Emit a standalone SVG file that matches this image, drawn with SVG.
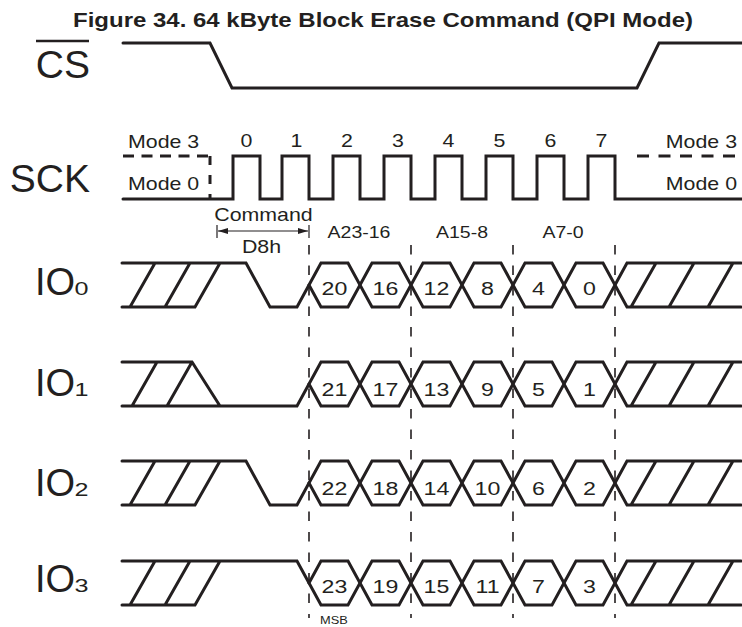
<svg xmlns="http://www.w3.org/2000/svg" xmlns:xlink="http://www.w3.org/1999/xlink" width="742" height="627" viewBox="0 0 742 627">
<style>
.w{fill:none;stroke:#231f20;stroke-width:3;stroke-linejoin:miter;stroke-linecap:round}
.dm{fill:none;stroke:#231f20;stroke-width:3}
.dl{fill:none;stroke:#231f20;stroke-width:1.6;stroke-dasharray:9.5 11}
.ar{fill:none;stroke:#231f20;stroke-width:1.2}
text{font-family:"Liberation Sans",Arial,Helvetica,sans-serif;fill:#231f20}
.big{font-size:39px}
.io{font-size:38px}
.sub{font-size:18px}
.s{font-size:17.5px}
.a{font-size:16px}
.h{font-size:19px}
.m{font-size:10.5px}
.t{font-size:21px;font-weight:bold}
</style>
<defs>
<polygon id="hex" points="0,0 12,-22 39,-22 51,0 39,22 12,22" fill="none" stroke="#231f20" stroke-width="3" stroke-linejoin="miter"/>
<path id="rightTail" class="w" d="M615,0 L627,-22 H741 M615,0 L627,22 H741 M631,22 L656,-22 M669,22 L694,-22 M708,22 L733,-22"/>
<g id="bus">
<use xlink:href="#hex" x="309" y="0"/>
<use xlink:href="#hex" x="360" y="0"/>
<use xlink:href="#hex" x="411" y="0"/>
<use xlink:href="#hex" x="462" y="0"/>
<use xlink:href="#hex" x="513" y="0"/>
<use xlink:href="#hex" x="564" y="0"/>
<use xlink:href="#rightTail"/>
</g>
<marker id="arr" markerUnits="userSpaceOnUse" markerWidth="12" markerHeight="8" refX="10" refY="4" orient="auto-start-reverse">
<path d="M0,1 L10,4 L0,7 Z" fill="#231f20"/>
</marker>
</defs>

<text class="t" x="73" y="27" textLength="620" lengthAdjust="spacingAndGlyphs">Figure 34. 64 kByte Block Erase Command (QPI Mode)</text>

<g id="cs">
<text class="big" x="90" y="78" text-anchor="end">CS</text>
<line x1="36" y1="41" x2="89" y2="41" stroke="#231f20" stroke-width="2.5"/>
<path class="w" d="M123,43 H210 L232,88 H637 L659,43 H742"/>
</g>

<g id="sck">
<text class="big" x="90" y="192" text-anchor="end">SCK</text>
<path class="dm" d="M123,156 H210" stroke-dasharray="11 7.5"/>
<path class="dm" d="M210,156 V199" stroke-dasharray="9 10"/>
<path class="dm" d="M637,156 H742" stroke-dasharray="12 9.5"/>
<path class="w" stroke-linecap="butt" d="M123,199 H233 V156 H260 V199 H282 V156 H309 V199 H333 V156 H360 V199 H384 V156 H411 V199 H435 V156 H462 V199 H486 V156 H513 V199 H537 V156 H564 V199 H588 V156 H615 V199 H742"/>
<text class="s" transform="matrix(1.22 0 0 1 128 148)">Mode 3</text>
<text class="s" transform="matrix(1.22 0 0 1 128 190)">Mode 0</text>
<text class="s" transform="matrix(1.22 0 0 1 737 148)" text-anchor="end">Mode 3</text>
<text class="s" transform="matrix(1.22 0 0 1 737 190)" text-anchor="end">Mode 0</text>
<text class="s" transform="matrix(1.22 0 0 1 246.5 147)" text-anchor="middle">0</text>
<text class="s" transform="matrix(1.22 0 0 1 296.5 147)" text-anchor="middle">1</text>
<text class="s" transform="matrix(1.22 0 0 1 347 147)" text-anchor="middle">2</text>
<text class="s" transform="matrix(1.22 0 0 1 398 147)" text-anchor="middle">3</text>
<text class="s" transform="matrix(1.22 0 0 1 448.5 147)" text-anchor="middle">4</text>
<text class="s" transform="matrix(1.22 0 0 1 499.5 147)" text-anchor="middle">5</text>
<text class="s" transform="matrix(1.22 0 0 1 550.5 147)" text-anchor="middle">6</text>
<text class="s" transform="matrix(1.22 0 0 1 601.5 147)" text-anchor="middle">7</text>
</g>

<g id="labels">
<text class="s" transform="matrix(1.22 0 0 1 263.5 221)" text-anchor="middle">Command</text>
<text class="s" transform="matrix(1.22 0 0 1 261.5 253)" text-anchor="middle">D8h</text>
<text class="a" transform="matrix(1.22 0 0 1 359 238)" text-anchor="middle">A23-16</text>
<text class="a" transform="matrix(1.22 0 0 1 462 238)" text-anchor="middle">A15-8</text>
<text class="a" transform="matrix(1.22 0 0 1 563 238)" text-anchor="middle">A7-0</text>
<text class="m" transform="matrix(1.22 0 0 1 334 624)" text-anchor="middle">MSB</text>
</g>

<g id="io0" transform="translate(0,285)">
<text class="io" x="35" y="10">IO</text>
<text class="sub" transform="matrix(1.4 0 0 1 81.5 10)" text-anchor="middle">0</text>
<path class="w" d="M122,-22 H246 L270,22 H297 L309,0 M122,22 H195 L220,-22 M130,22 L155,-22 M165,22 L190,-22"/>
<use xlink:href="#bus"/>
<g class="h" text-anchor="middle">
<text transform="matrix(1.22 0 0 1 334.5 10)">20</text>
<text transform="matrix(1.22 0 0 1 385.5 10)">16</text>
<text transform="matrix(1.22 0 0 1 436.5 10)">12</text>
<text transform="matrix(1.22 0 0 1 487.5 10)">8</text>
<text transform="matrix(1.22 0 0 1 538.5 10)">4</text>
<text transform="matrix(1.22 0 0 1 589.5 10)">0</text>
</g>
</g>

<g id="io1" transform="translate(0,384)">
<text class="io" x="35" y="12">IO</text>
<text class="sub" transform="matrix(1.4 0 0 1 81.5 12)" text-anchor="middle">1</text>
<path class="w" d="M122,-22 H192 L220,22 M122,22 H297 L309,0 M132,22 L157,-22 M167,22 L192,-22"/>
<use xlink:href="#bus"/>
<g class="h" text-anchor="middle">
<text transform="matrix(1.22 0 0 1 334.5 11.5)">21</text>
<text transform="matrix(1.22 0 0 1 385.5 11.5)">17</text>
<text transform="matrix(1.22 0 0 1 436.5 11.5)">13</text>
<text transform="matrix(1.22 0 0 1 487.5 11.5)">9</text>
<text transform="matrix(1.22 0 0 1 538.5 11.5)">5</text>
<text transform="matrix(1.22 0 0 1 589.5 11.5)">1</text>
</g>
</g>

<g id="io2" transform="translate(0,483)">
<text class="io" x="35" y="13">IO</text>
<text class="sub" transform="matrix(1.4 0 0 1 81.5 13)" text-anchor="middle">2</text>
<path class="w" d="M122,-22 H246 L270,22 H297 L309,0 M122,22 H195 L220,-22 M130,22 L155,-22 M165,22 L190,-22"/>
<use xlink:href="#bus"/>
<g class="h" text-anchor="middle">
<text transform="matrix(1.22 0 0 1 334.5 12)">22</text>
<text transform="matrix(1.22 0 0 1 385.5 12)">18</text>
<text transform="matrix(1.22 0 0 1 436.5 12)">14</text>
<text transform="matrix(1.22 0 0 1 487.5 12)">10</text>
<text transform="matrix(1.22 0 0 1 538.5 12)">6</text>
<text transform="matrix(1.22 0 0 1 589.5 12)">2</text>
</g>
</g>

<g id="io3" transform="translate(0,583)">
<text class="io" x="35" y="9">IO</text>
<text class="sub" transform="matrix(1.4 0 0 1 81.5 9)" text-anchor="middle">3</text>
<path class="w" d="M122,-22 H297 L309,0 M122,22 H195 L220,-22 M130,22 L155,-22 M165,22 L190,-22"/>
<use xlink:href="#bus"/>
<g class="h" text-anchor="middle">
<text transform="matrix(1.22 0 0 1 334.5 9.5)">23</text>
<text transform="matrix(1.22 0 0 1 385.5 9.5)">19</text>
<text transform="matrix(1.22 0 0 1 436.5 9.5)">15</text>
<text transform="matrix(1.22 0 0 1 487.5 9.5)">11</text>
<text transform="matrix(1.22 0 0 1 538.5 9.5)">7</text>
<text transform="matrix(1.22 0 0 1 589.5 9.5)">3</text>
</g>
</g>

<g id="connectors">
<line class="ar" x1="218" y1="231" x2="308" y2="231" marker-start="url(#arr)" marker-end="url(#arr)"/>
<line class="ar" x1="217" y1="225" x2="217" y2="238"/>
<line class="ar" x1="309" y1="225" x2="309" y2="238"/>
<line class="dl" x1="309" y1="245" x2="309" y2="618"/>
<line class="dl" x1="411" y1="245" x2="411" y2="618"/>
<line class="dl" x1="513" y1="245" x2="513" y2="618"/>
<line class="dl" x1="615" y1="245" x2="615" y2="618"/>
</g>
</svg>
